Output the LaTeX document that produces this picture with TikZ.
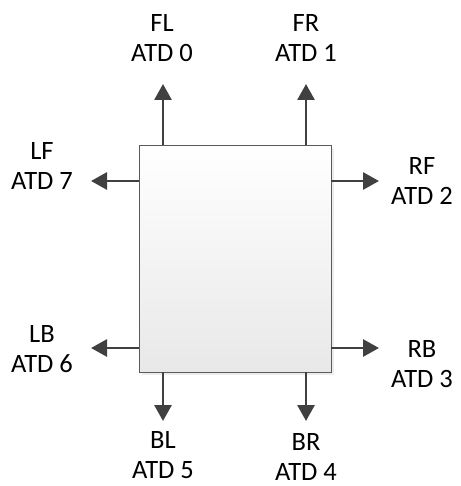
\documentclass[tikz,border=0pt]{standalone}
\usepackage{fontspec}
\setmainfont{Carlito}
\usetikzlibrary{arrows.meta,shadows}
\definecolor{lineg}{HTML}{404040}
\definecolor{boxb}{HTML}{5A5A5A}
\begin{document}
\begin{tikzpicture}[x=1pt,y=-1pt,
  lbl/.style={align=center,font=\fontsize{26.5}{30}\selectfont,inner sep=0pt},
  arr/.style={draw=lineg,line width=2.8pt,-{Triangle[length=16pt,width=17pt]}},
  boxst/.style={draw=boxb,line width=0.9pt,top color=white,bottom color=black!9,
    minimum width=192pt,minimum height=227pt,inner sep=0pt,
    drop shadow={opacity=0.15,shadow xshift=3pt,shadow yshift=-3pt}}]
\useasboundingbox (0,0) rectangle (460,486);
\node[boxst] (box) at (235,258.5) {};
% labels
\node[lbl] (fl) at (162,38) {FL\\ATD 0};
\node[lbl] (fr) at (306,38) {FR\\ATD 1};
\node[lbl] (lf) at (42,166) {LF\\ATD 7};
\node[lbl] (rf) at (422,181) {RF\\ATD 2};
\node[lbl] (lb) at (42,349) {LB\\ATD 6};
\node[lbl] (rb) at (422,364) {RB\\ATD 3};
\node[lbl] (bl) at (163,455) {BL\\ATD 5};
\node[lbl] (br) at (306,457) {BR\\ATD 4};
% arrow tips
\coordinate (tfl) at (163,84);
\coordinate (tfr) at (306,84);
\coordinate (tlf) at (91,181);
\coordinate (trf) at (379,181);
\coordinate (tlb) at (91,348);
\coordinate (trb) at (379,348);
\coordinate (tbl) at (163,421);
\coordinate (tbr) at (306,421);
\draw[arr] (box.north -| tfl) -- (tfl);
\draw[arr] (box.north -| tfr) -- (tfr);
\draw[arr] (box.west |- tlf) -- (tlf);
\draw[arr] (box.east |- trf) -- (trf);
\draw[arr] (box.west |- tlb) -- (tlb);
\draw[arr] (box.east |- trb) -- (trb);
\draw[arr] (box.south -| tbl) -- (tbl);
\draw[arr] (box.south -| tbr) -- (tbr);
\end{tikzpicture}
\end{document}
